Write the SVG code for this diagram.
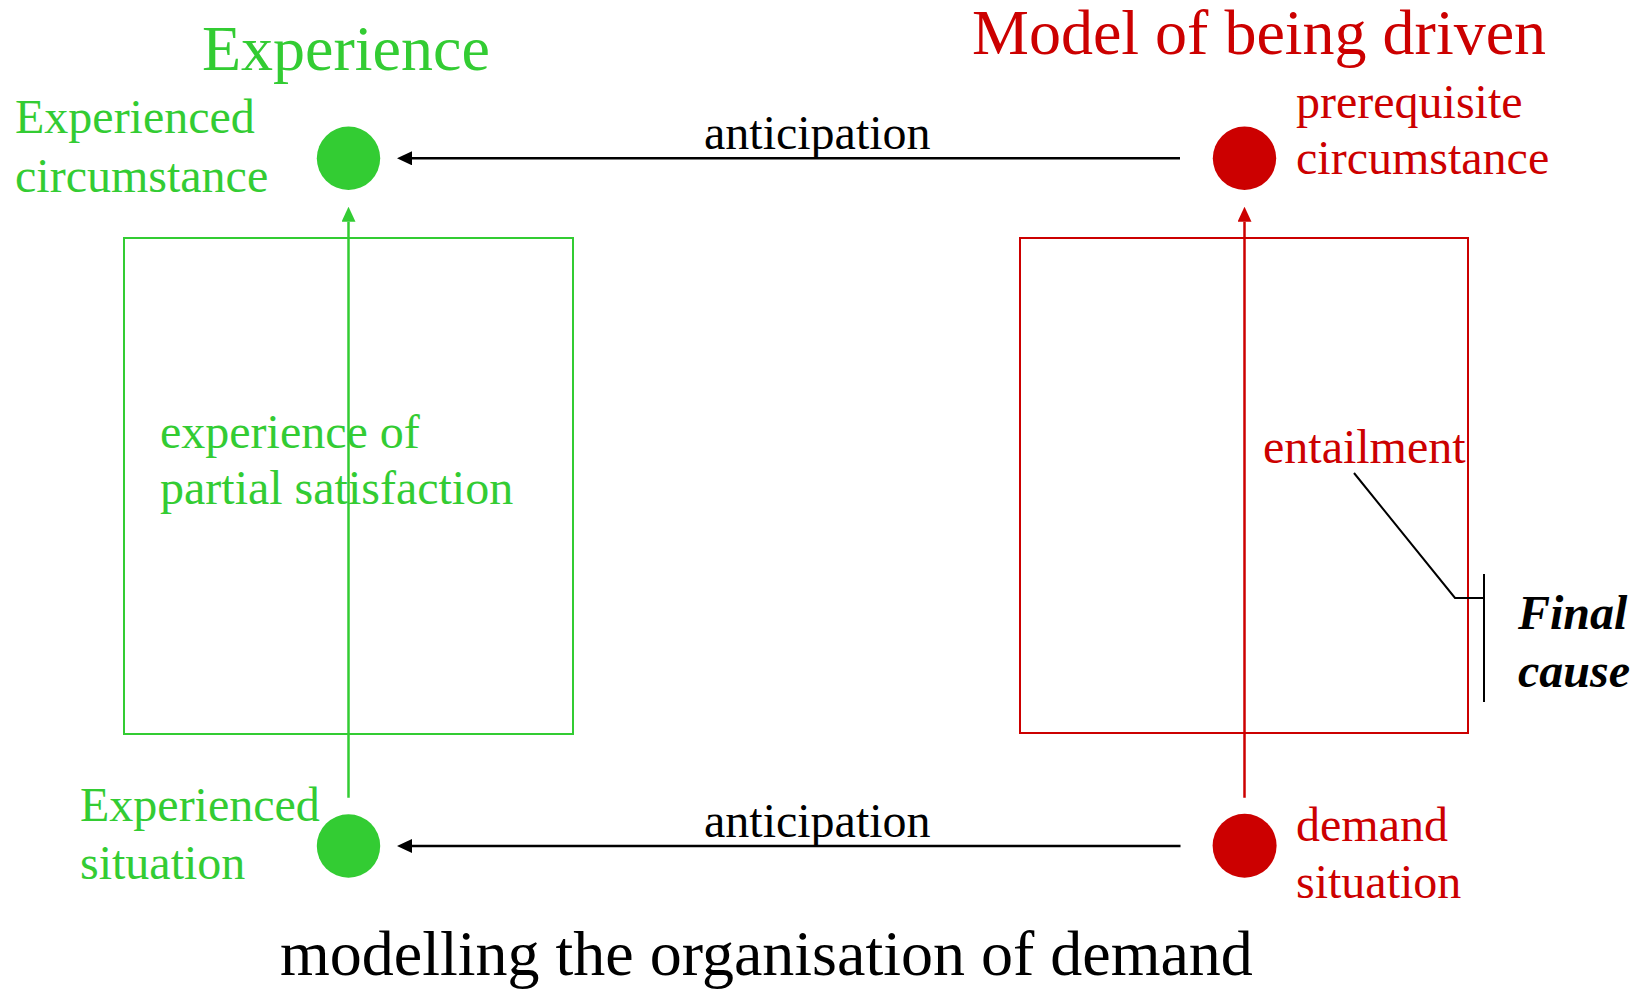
<svg xmlns="http://www.w3.org/2000/svg" width="1646" height="991" viewBox="0 0 1646 991">
  <style>
    text { font-family: "Liberation Serif", "Times New Roman", serif; }
    .green { fill: #33cc33; }
    .red { fill: #cc0000; }
    .black { fill: #000000; }
    .title { font-size: 64px; }
    .label { font-size: 48px; }
    .cause { font-size: 48px; font-weight: bold; font-style: italic; }
    .box-g { fill: none; stroke: #33cc33; stroke-width: 2; }
    .box-r { fill: none; stroke: #cc0000; stroke-width: 2; }
    .flow-g { stroke: #33cc33; stroke-width: 2.5; fill: none; }
    .flow-r { stroke: #cc0000; stroke-width: 2.5; fill: none; }
    .flow-k { stroke: #000000; stroke-width: 2.5; fill: none; }
    .lead { stroke: #000000; stroke-width: 2; fill: none; }
  </style>
  <defs>
    <marker id="headK" markerUnits="userSpaceOnUse" viewBox="0 0 15 14" markerWidth="15" markerHeight="14" refX="0" refY="7" orient="auto">
      <path d="M0,0 L15,7 L0,14 z" fill="#000000"/>
    </marker>
    <marker id="headG" markerUnits="userSpaceOnUse" viewBox="0 0 15 14" markerWidth="15" markerHeight="14" refX="0" refY="7" orient="auto">
      <path d="M0,0 L15,7 L0,14 z" fill="#33cc33"/>
    </marker>
    <marker id="headR" markerUnits="userSpaceOnUse" viewBox="0 0 15 14" markerWidth="15" markerHeight="14" refX="0" refY="7" orient="auto">
      <path d="M0,0 L15,7 L0,14 z" fill="#cc0000"/>
    </marker>
  </defs>

  <rect width="1646" height="991" fill="#ffffff"/>

  <!-- headings -->
  <text class="title green" x="202" y="70">Experience</text>
  <text class="title red" x="972" y="54">Model of being driven</text>
  <text class="title black" x="280" y="975">modelling the organisation of demand</text>

  <!-- frames -->
  <g id="experience-frame">
    <rect class="box-g" x="124" y="238" width="449" height="496"/>
    <text class="label green" x="160" y="448">experience of</text>
    <text class="label green" x="160" y="504">partial satisfaction</text>
  </g>
  <g id="driven-frame">
    <rect class="box-r" x="1020" y="238" width="448" height="495"/>
    <text class="label red" x="1263" y="463">entailment</text>
  </g>

  <!-- nodes -->
  <g id="experienced-circumstance">
    <circle class="green" cx="348.5" cy="158.3" r="31.7"/>
    <text class="label green" x="15" y="133">Experienced</text>
    <text class="label green" x="15" y="192">circumstance</text>
  </g>
  <g id="prerequisite-circumstance">
    <circle class="red" cx="1244.5" cy="158.3" r="31.7"/>
    <text class="label red" x="1296" y="118">prerequisite</text>
    <text class="label red" x="1296" y="174">circumstance</text>
  </g>
  <g id="experienced-situation">
    <circle class="green" cx="348.5" cy="846" r="31.7"/>
    <text class="label green" x="80" y="821">Experienced</text>
    <text class="label green" x="80" y="879">situation</text>
  </g>
  <g id="demand-situation">
    <circle class="red" cx="1244.6" cy="845.8" r="32"/>
    <text class="label red" x="1296" y="841">demand</text>
    <text class="label red" x="1296" y="898">situation</text>
  </g>
  <g id="final-cause">
    <line class="lead" x1="1484" y1="574" x2="1484" y2="702"/>
    <text class="cause black" x="1518" y="629">Final</text>
    <text class="cause black" x="1518" y="687">cause</text>
  </g>

  <!-- connectors -->
  <g id="connectors">
    <line class="flow-k" x1="1180" y1="158.3" x2="412" y2="158.3" marker-end="url(#headK)"/>
    <text class="label black" x="704" y="149">anticipation</text>
    <line class="flow-k" x1="1180.5" y1="846" x2="412" y2="846" marker-end="url(#headK)"/>
    <text class="label black" x="704" y="837">anticipation</text>
    <line class="flow-g" x1="348.5" y1="797.7" x2="348.5" y2="221.7" marker-end="url(#headG)"/>
    <line class="flow-r" x1="1244.5" y1="797.7" x2="1244.5" y2="221.7" marker-end="url(#headR)"/>
    <polyline class="lead" points="1354,473 1455,598 1484,598"/>
  </g>
</svg>
